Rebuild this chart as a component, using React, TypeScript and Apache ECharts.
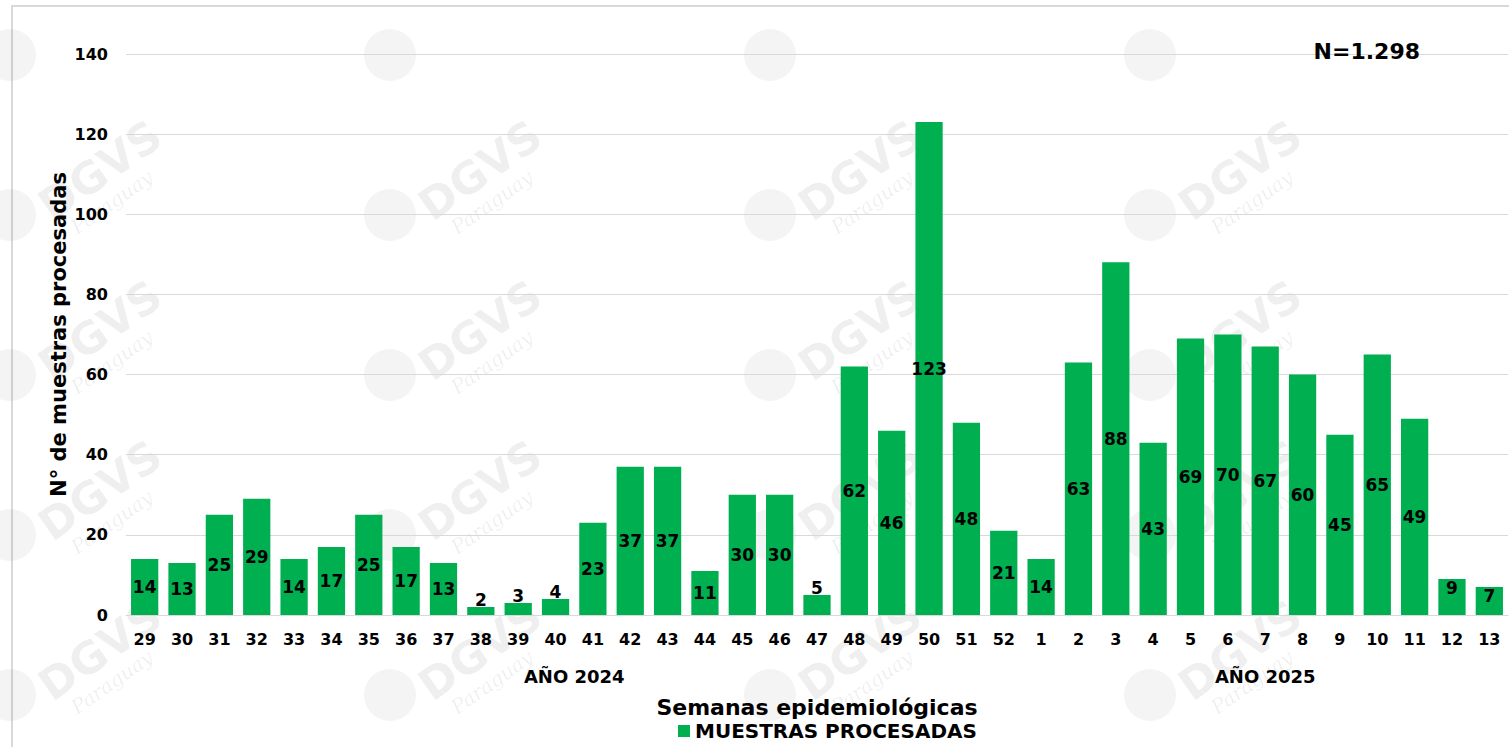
import { useEffect, useRef } from "react";
import * as echarts from "echarts";

const weeks = [
  "29", "30", "31", "32", "33", "34", "35", "36", "37", "38", "39", "40",
  "41", "42", "43", "44", "45", "46", "47", "48", "49", "50", "51", "52",
  "1", "2", "3", "4", "5", "6", "7", "8", "9", "10", "11", "12", "13",
];
const samples = [
  14, 13, 25, 29, 14, 17, 25, 17, 13, 2, 3, 4,
  23, 37, 37, 11, 30, 30, 5, 62, 46, 123, 48, 21,
  14, 63, 88, 43, 69, 70, 67, 60, 45, 65, 49, 9, 7,
];
const yearGroups = ["AÑO 2024", "AÑO 2025"];
const yearGroupSizes = [24, 13];
const yMin = 0;
const yMax = 140;
const yInterval = 20;
const seriesName = "MUESTRAS PROCESADAS";
const xTitle = "Semanas epidemiológicas";
const yTitle = "N° de muestras procesadas";
const totalLabel = "N=1.298";

const GREEN = "#00b050";
const FONT = "'DejaVu Sans', 'Noto Sans', sans-serif";

export default function App() {
  const ref = useRef<HTMLDivElement>(null);

  useEffect(() => {
    if (!ref.current) return;
    const chart = echarts.init(ref.current, null, { renderer: "svg" });

    // centers of year groups in category units
    const groupCenters: number[] = [];
    let acc = 0;
    yearGroupSizes.forEach((n) => {
      groupCenters.push(acc + n / 2);
      acc += n;
    });

    const data = samples.map((v) => {
      let label: any = { position: "inside" };
      if (v <= 5) label = { position: "top", distance: -2 };
      else if (v < 10) label = { position: "insideTop", distance: 1 };
      return { value: v, label };
    });

    // faint watermark graphics
    const watermarks: any[] = [];
    const cols = [100, 480, 860, 1240];
    const rows = [10, 170, 330, 490, 650];
    cols.forEach((cx) => {
      rows.forEach((cy, ri) => {
        watermarks.push({
          type: "circle",
          shape: { cx: cx - 90, cy: cy + 45, r: 26 },
          style: { fill: "rgba(0,0,0,0.045)" },
          z: -10,
          silent: true,
        });
        if (ri === 0) return;
        watermarks.push({
          type: "text",
          x: cx,
          y: cy,
          rotation: (35 * Math.PI) / 180,
          style: {
            text: "DGVS",
            font: `bold 44px ${FONT}`,
            fill: "rgba(0,0,0,0.07)",
            align: "center",
            verticalAlign: "middle",
          },
          z: -10,
          silent: true,
        });
        watermarks.push({
          type: "text",
          x: cx + 12,
          y: cy + 32,
          rotation: (35 * Math.PI) / 180,
          style: {
            text: "Paraguay",
            font: `italic 20px 'DejaVu Serif', serif`,
            fill: "rgba(0,0,0,0.07)",
            align: "center",
            verticalAlign: "middle",
          },
          z: -10,
          silent: true,
        });
      });
    });

    chart.setOption({
      animation: false,
      backgroundColor: "#ffffff",
      textStyle: { fontFamily: FONT },
      grid: { left: 126, right: 1, top: 54, bottom: 132, containLabel: false },
      legend: {
        data: [seriesName],
        left: 678,
        top: 721,
        padding: 0,
        itemWidth: 12,
        itemHeight: 12,
        icon: "rect",
        itemGap: 5,
        textStyle: { fontSize: 20, fontWeight: "bold", color: "#000", fontFamily: FONT },
      },
      xAxis: [
        {
          type: "category",
          data: weeks,
          axisLine: { show: true, lineStyle: { color: "#d9d9d9", width: 1 } },
          axisTick: { show: false },
          axisLabel: {
            interval: 0,
            margin: 16,
            fontSize: 16,
            fontWeight: "bold",
            color: "#000",
            fontFamily: FONT,
          },
          name: xTitle,
          nameLocation: "middle",
          nameGap: 81,
          nameMoveOverlap: false,
          nameTextStyle: { fontSize: 22, fontWeight: "bold", color: "#000", fontFamily: FONT },
        },
        {
          type: "value",
          position: "bottom",
          min: 0,
          max: weeks.length,
          axisLine: { show: false },
          axisTick: { show: false },
          splitLine: { show: false },
          axisLabel: {
            customValues: groupCenters,
            margin: 52,
            fontSize: 18,
            fontWeight: "bold",
            color: "#000",
            fontFamily: FONT,
            formatter: (v: number) => {
              const i = groupCenters.findIndex((c) => Math.abs(c - v) < 1e-6);
              return i >= 0 ? yearGroups[i] : "";
            },
          },
        },
      ],
      yAxis: {
        type: "value",
        min: yMin,
        max: yMax,
        interval: yInterval,
        axisLine: { show: false },
        axisTick: { show: false },
        splitLine: { lineStyle: { color: "#d9d9d9", width: 1 } },
        axisLabel: {
          margin: 18,
          fontSize: 16,
          fontWeight: "bold",
          color: "#000",
          fontFamily: FONT,
        },
        name: yTitle,
        nameLocation: "middle",
        nameGap: 57,
        nameMoveOverlap: false,
        nameTextStyle: { fontSize: 21, fontWeight: "bold", color: "#000", fontFamily: FONT },
      },
      series: [
        {
          name: seriesName,
          type: "bar",
          xAxisIndex: 0,
          data,
          barCategoryGap: "27%",
          itemStyle: { color: GREEN },
          label: {
            show: true,
            fontSize: 17,
            fontWeight: "bold",
            color: "#000",
            fontFamily: FONT,
          },
        },
      ],
      graphic: [
        {
          type: "rect",
          shape: { x: 12, y: 6, width: 1600, height: 800 },
          style: { fill: "none", stroke: "#d9d9d9", lineWidth: 2 },
          z: -20,
          silent: true,
        },
        ...watermarks,
        {
          type: "text",
          right: 89,
          top: 40,
          style: {
            text: totalLabel,
            font: `bold 22px ${FONT}`,
            fill: "#000",
          },
          z: 10,
        },
      ],
    });

    return () => chart.dispose();
  }, []);

  return (
    <div
      ref={ref}
      style={{ position: "fixed", left: 0, top: 0, width: 1509, height: 747 }}
    />
  );
}
